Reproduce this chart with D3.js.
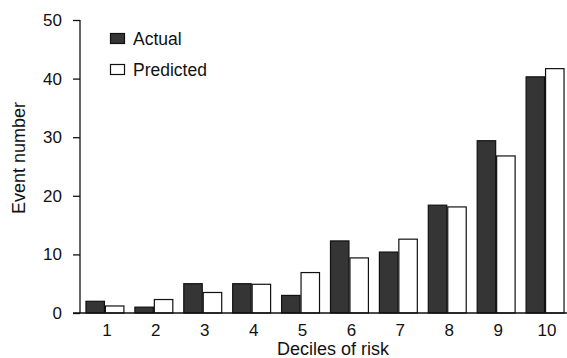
<!DOCTYPE html>
<html><head><meta charset="utf-8">
<script src="https://cdn.jsdelivr.net/npm/d3@7"></script>
<style>body{margin:0;background:#fff}svg{display:block}text{font-family:"Liberation Sans",Arial,sans-serif;fill:#111}</style>
</head><body><svg id="c" width="567" height="358"></svg>
<script>
const categories = ["1","2","3","4","5","6","7","8","9","10"];
const actual    = [2, 1, 5, 5, 3, 12.3, 10.4, 18.4, 29.4, 40.3];
const predicted = [1.2, 2.3, 3.5, 4.9, 6.9, 9.4, 12.6, 18.1, 26.8, 41.7];
const yTicks = [0, 10, 20, 30, 40, 50];
const seriesNames = ["Actual", "Predicted"];
const colors = {Actual: "#353535", Predicted: "#ffffff"};
const FONT = '"Liberation Sans",Arial,sans-serif';

const svg = d3.select("#c");
const x0 = d3.scaleBand().domain(categories).range([80, 570]).paddingInner(0.204).paddingOuter(0.112);
const x1 = d3.scaleBand().domain(seriesNames).range([0, x0.bandwidth()]);
const y = d3.scaleLinear().domain([0, 50]).range([313, 20]);

const data = categories.map((c, i) => ({c, vals: [{s: "Actual", v: actual[i]}, {s: "Predicted", v: predicted[i]}]}));

const g = svg.append("g");
g.selectAll("g.cat").data(data).join("g").attr("class", "cat")
  .attr("transform", d => `translate(${x0(d.c)},0)`)
  .selectAll("rect").data(d => d.vals).join("rect")
  .attr("x", d => x1(d.s) + 0.5)
  .attr("y", d => y(d.v))
  .attr("width", x1.bandwidth() - 1)
  .attr("height", d => y(0) - y(d.v))
  .attr("fill", d => colors[d.s])
  .attr("stroke", "#111").attr("stroke-width", 1.2);

// y axis
const yAxis = d3.axisLeft(y).tickValues(yTicks).tickSize(7).tickPadding(11);
const ya = svg.append("g").attr("transform", "translate(80,0)").call(yAxis);
ya.select(".domain").attr("stroke", "#111").attr("stroke-width", 1.3).attr("d", "M0,20V313");
ya.selectAll(".tick line").attr("stroke", "#111").attr("stroke-width", 1.3);
ya.selectAll(".tick text").attr("font-size", 17).attr("fill", "#111").style("font-family", FONT);

// x axis baseline
const xAxis = d3.axisBottom(x0).tickSize(0).tickPadding(11);
const xa = svg.append("g").attr("transform", "translate(0,313)").call(xAxis);
xa.select(".domain").attr("stroke", "#111").attr("stroke-width", 1.3).attr("d", "M73,0H567");
xa.selectAll(".tick text").attr("font-size", 17).attr("fill", "#111").attr("dx", 2).style("font-family", FONT);

// axis titles
svg.append("text").attr("x", 333).attr("y", 355).attr("text-anchor", "middle").attr("font-size", 18).text("Deciles of risk");
svg.append("text").attr("transform", "translate(25,158) rotate(-90)").attr("text-anchor", "middle").attr("font-size", 18).text("Event number");

// legend
const leg = svg.append("g");
seriesNames.forEach((s, i) => {
  const yy = 33 + i * 31;
  leg.append("rect").attr("x", 110.5).attr("y", yy + 0.5).attr("width", 14).attr("height", 10)
    .attr("fill", colors[s]).attr("stroke", "#111").attr("stroke-width", 1.2);
  leg.append("text").attr("x", 133).attr("y", yy + 12).attr("font-size", 17.5).text(s);
});
</script></body></html>
